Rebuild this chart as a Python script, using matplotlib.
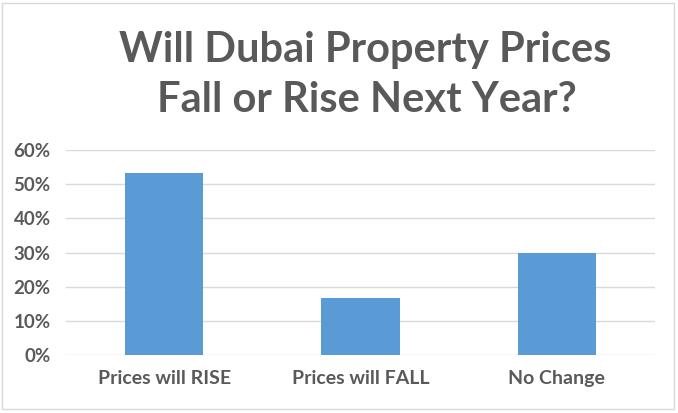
import numpy as np
from matplotlib import pyplot as plt
from matplotlib.patches import Rectangle
from matplotlib.ticker import PercentFormatter

categories = ['Prices will RISE', 'Prices will FALL', 'No Change']
values = [0.533, 0.167, 0.30]
yticks = [0, 0.1, 0.2, 0.3, 0.4, 0.5, 0.6]

grey = '#595959'
blue = '#5B9BD5'
plt.rcParams['font.family'] = ['Lato', 'DejaVu Sans']

f = plt.figure(figsize=(6.78, 4.13), dpi=100)
f.patch.set_facecolor('white')

# chart area border (excel style)
f.patches.append(Rectangle((2/678, 1 - 409/413), 672/678, 406/413,
                           transform=f.transFigure, fill=False,
                           edgecolor='#D9D9D9', lw=1))

ax = f.add_axes([66/678, 1 - 355/413, 589/678, 205/413])
x = np.arange(len(categories))
ax.bar(x, values, width=0.4, color=blue, zorder=3)

ax.set_xlim(-0.5, 2.5)
ax.set_ylim(0, 0.6)
ax.set_yticks(yticks)
ax.yaxis.set_major_formatter(PercentFormatter(1, decimals=0))
ax.set_xticks(x)
ax.set_xticklabels(categories)
ax.grid(axis='y', color='#D9D9D9', lw=1, zorder=0)
for s in ax.spines.values():
    s.set_visible(False)
ax.tick_params(axis='x', length=0, labelsize=14, labelcolor=grey, pad=11)
ax.tick_params(axis='y', length=0, labelsize=13.5, labelcolor=grey, pad=11)
for t in ax.get_xticklabels() + ax.get_yticklabels():
    t.set_fontweight('bold')

f.text(365/678, 1 - 50/413, 'Will Dubai Property Prices', ha='center', va='center',
       fontsize=30, fontweight='bold', color=grey)
f.text(367/678, 1 - 100/413, 'Fall or Rise Next Year?', ha='center', va='center',
       fontsize=30, fontweight='bold', color=grey)

plt.savefig('out.png', dpi=100, facecolor='white')
